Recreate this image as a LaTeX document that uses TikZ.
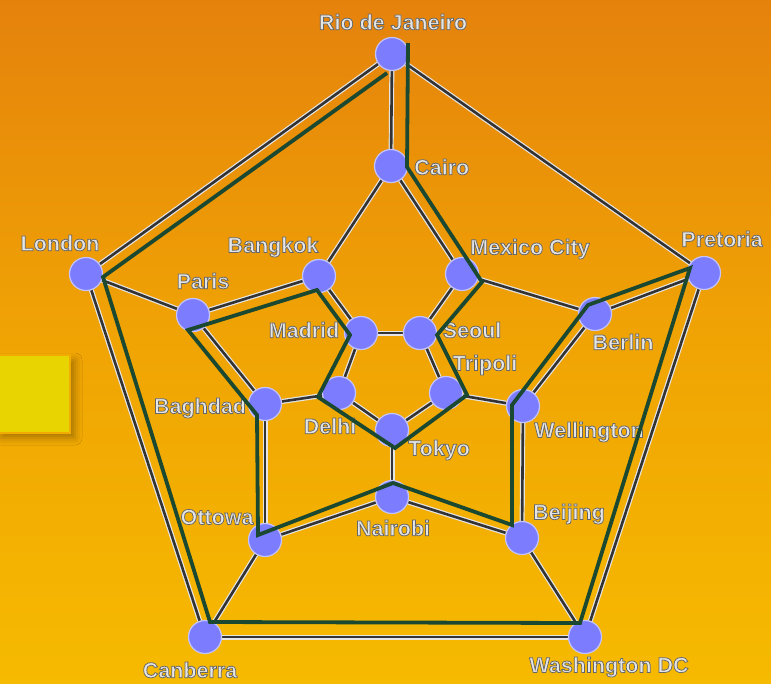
\documentclass[tikz,border=0pt]{standalone}
\usepackage{fontspec}
\newfontfamily\labelfont{Liberation Sans}
\usetikzlibrary{shadows.blur}

\definecolor{bgtop}{RGB}{229,130,12}
\definecolor{bgmid}{RGB}{240,164,4}
\definecolor{bgbottom}{RGB}{246,186,0}
\definecolor{cityblue}{RGB}{124,124,255}
\definecolor{tourgreen}{RGB}{26,72,48}
\definecolor{boxyellow}{RGB}{232,212,0}
\definecolor{boxedge}{RGB}{242,172,0}

% light letters (fill) with a dark rim (stroke), fill + stroke text rendering
\newcommand\rimon{\special{pdf:bcolor [0.9 0.9 0.9] [0.4 0.4 0.4]}%
  \special{pdf:literal direct 0.75 w 2 Tr}}
\newcommand\rimoff{\special{pdf:literal direct 0 Tr}\special{pdf:ecolor}}

\pgfdeclarelayer{bg}
\pgfdeclarelayer{roads}
\pgfdeclarelayer{top}
\pgfsetlayers{bg,roads,main,top}

\tikzset{
  city/.style={circle, fill=cityblue, draw=white!55!cityblue, line width=1.2pt,
    minimum size=33pt, inner sep=0pt},
  place/.style={font=\labelfont\bfseries\fontsize{21.5}{22}\selectfont,
    inner sep=0pt, execute at begin node=\rimon, execute at end node=\rimoff},
  road/.style={draw=white!80!gray, line width=1.2pt, double=black!80,
    double distance=2.6pt},
  tour/.style={draw=tourgreen, line width=3.8pt, line join=miter},
}

\begin{document}
\begin{tikzpicture}[x=1pt,y=-1pt]
\useasboundingbox (0,0) rectangle (771,683);

\begin{pgfonlayer}{bg}
  \shade[top color=bgtop, bottom color=bgbottom, middle color=bgmid] (0,0) rectangle (771,683);
  \filldraw[fill=boxyellow, draw=boxedge, line width=1.5pt,
    blur shadow={shadow xshift=5pt, shadow yshift=-5pt, shadow blur radius=7pt, shadow opacity=30}]
    (-4,355) rectangle (70,433);
\end{pgfonlayer}

% place names
\node[place] (l-rio)   at (393,22)  {Rio de Janeiro};
\node[place, anchor=west] (l-cairo) at (414,167) {Cairo};
\node[place] (l-lon)   at (60,243)  {London};
\node[place] (l-par)   at (203,281) {Paris};
\node[place] (l-bang)  at (273,247) {Bangkok};
\node[place] (l-mex)   at (530,249) {Mexico City};
\node[place] (l-pre)   at (722,239) {Pretoria};
\node[place] (l-mad)   at (304,330) {Madrid};
\node[place] (l-seo)   at (472,330) {Seoul};
\node[place] (l-tri)   at (485,365) {Tripoli};
\node[place] (l-ber)   at (623,342) {Berlin};
\node[place] (l-bag)   at (200,408) {Baghdad};
\node[place] (l-del)   at (330,426) {Delhi};
\node[place] (l-wel)   at (589,432) {Wellington};
\node[place] (l-tok)   at (439,450) {Tokyo};
\node[place] (l-ott)   at (217,517) {Ottowa};
\node[place] (l-nai)   at (393,528) {Nairobi};
\node[place] (l-bei)   at (569,514) {Beijing};
\node[place] (l-can)   at (190,670) {Canberra};
\node[place] (l-was)   at (609,667) {Washington DC};

% cities: outer pentagon
\node[city] (rio)        at (392,54)  {};
\node[city] (pretoria)   at (704,273) {};
\node[city] (washington) at (585,637) {};
\node[city] (canberra)   at (205,637) {};
\node[city] (london)     at (86,274)  {};
% middle ring
\node[city] (cairo)      at (391,166) {};
\node[city] (mexico)     at (462,274) {};
\node[city] (berlin)     at (595,314) {};
\node[city] (wellington) at (523,406) {};
\node[city] (beijing)    at (522,538) {};
\node[city] (nairobi)    at (392,497) {};
\node[city] (ottowa)     at (265,540) {};
\node[city] (baghdad)    at (265,404) {};
\node[city] (paris)      at (193,315) {};
\node[city] (bangkok)    at (319,276) {};
% inner pentagon
\node[city] (madrid)     at (361,333) {};
\node[city] (seoul)      at (420,333) {};
\node[city] (tripoli)    at (446,393) {};
\node[city] (tokyo)      at (392,430) {};
\node[city] (delhi)      at (339,393) {};

\begin{pgfonlayer}{roads}
  \foreach \a/\b in {rio/pretoria, pretoria/washington, washington/canberra,
      canberra/london, london/rio,
      rio/cairo, pretoria/berlin, washington/beijing, canberra/ottowa, london/paris,
      cairo/mexico, mexico/berlin, berlin/wellington, wellington/beijing,
      beijing/nairobi, nairobi/ottowa, ottowa/baghdad, baghdad/paris,
      paris/bangkok, bangkok/cairo,
      bangkok/madrid, mexico/seoul, wellington/tripoli, nairobi/tokyo, baghdad/delhi,
      madrid/seoul, seoul/tripoli, tripoli/tokyo, tokyo/delhi, delhi/madrid}
    \draw[road] (\a) -- (\b);
\end{pgfonlayer}

% Hamiltonian tour, traced beside the cities
\coordinate (t-start) at (408,43);
\coordinate (t-cai) at (407,167);
\coordinate (t-mex) at (482,282);
\coordinate (t-seo) at (437,335);
\coordinate (t-tri) at (467,395);
\coordinate (t-tok) at (395,448);
\coordinate (t-del) at (318,397);
\coordinate (t-mad) at (350,335);
\coordinate (t-ban) at (317,290);
\coordinate (t-par) at (188,330);
\coordinate (t-bag) at (257,415);
\coordinate (t-ott) at (258,535);
\coordinate (t-nai) at (393,483);
\coordinate (t-bei) at (512,525);
\coordinate (t-wel) at (512,405);
\coordinate (t-ber) at (588,305);
\coordinate (t-pre) at (690,268);
\coordinate (t-was) at (580,623);
\coordinate (t-can) at (210,622);
\coordinate (t-lon) at (103,277);
\coordinate (t-end) at (387,73);

\begin{pgfonlayer}{top}
  \draw[tour] (t-start) -- (t-cai) -- (t-mex) -- (t-seo) -- (t-tri) -- (t-tok)
    -- (t-del) -- (t-mad) -- (t-ban) -- (t-par) -- (t-bag) -- (t-ott) -- (t-nai)
    -- (t-bei) -- (t-wel) -- (t-ber) -- (t-pre) -- (t-was) -- (t-can) -- (t-lon)
    -- (t-end);
\end{pgfonlayer}
\end{tikzpicture}
\end{document}
